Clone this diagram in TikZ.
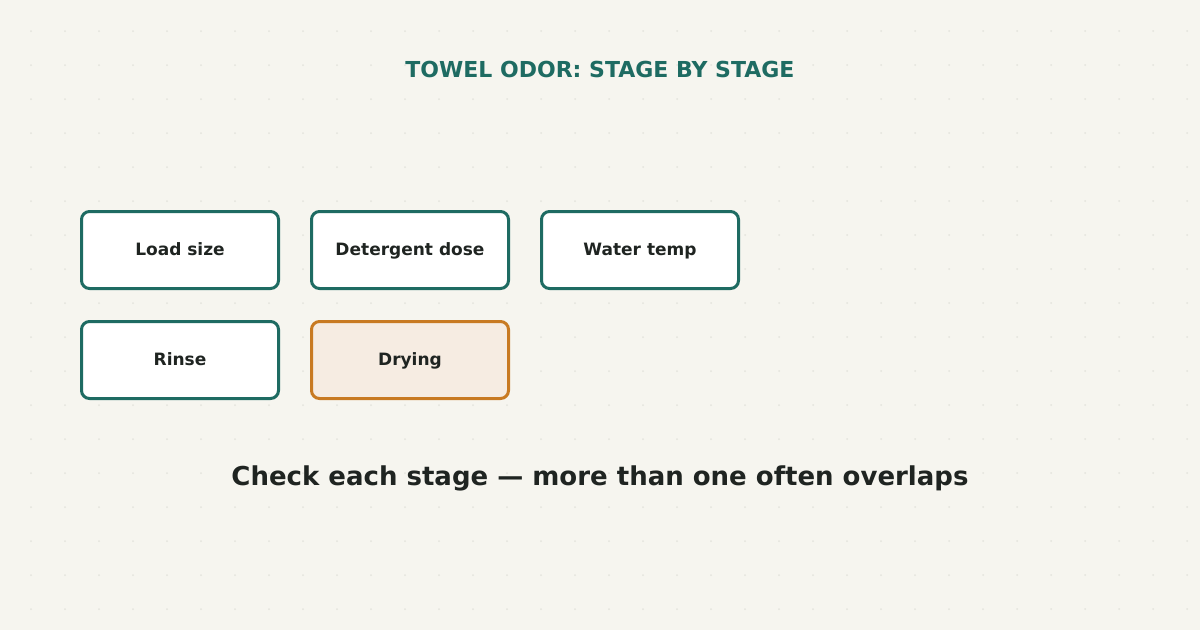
\documentclass[tikz,border=0pt]{standalone}
\usepackage{fontspec}
\setmainfont{DejaVu Sans}
\usetikzlibrary{positioning}
\definecolor{paper}{HTML}{F6F5EF}
\definecolor{gridgray}{HTML}{E4E4DD}
\definecolor{teal}{HTML}{1E6B62}
\definecolor{ochre}{HTML}{C87A22}
\definecolor{ochrefill}{HTML}{F6ECE2}
\definecolor{ink}{HTML}{1F2421}
\tikzset{
  stagebox/.style={draw=teal, line width=3pt, fill=white, rounded corners=8pt,
    minimum width=197pt, minimum height=77pt, inner sep=0pt,
    text height=15pt, text depth=3.5pt,
    font=\bfseries\fontsize{17}{20}\selectfont, text=ink},
  hotbox/.style={stagebox, draw=ochre, fill=ochrefill}
}
\begin{document}
\begin{tikzpicture}[x=1pt,y=-1pt]
\useasboundingbox (0,0) rectangle (1200,630);
\fill[paper] (0,0) rectangle (1200,630);
% dotted grid
\foreach \i in {0,...,34}
  \foreach \j in {0,...,17}
    \fill[gridgray] (31+34*\i,31+34*\j) circle (1pt);
\node[text=teal, font=\bfseries\fontsize{22}{26}\selectfont] (title) at (600,69) {TOWEL ODOR: STAGE BY STAGE};
\node[stagebox] (load) at (180,250) {Load size};
\node[stagebox] (dose) at (410,250) {Detergent dose};
\node[stagebox] (temp) at (640,250) {Water temp};
\node[stagebox] (rinse) at (180,360) {Rinse};
\node[hotbox] (dry) at (410,360) {Drying};
\node[text=ink, font=\bfseries\fontsize{26}{30}\selectfont] (note) at (600,478) {Check each stage — more than one often overlaps};
\end{tikzpicture}
\end{document}
